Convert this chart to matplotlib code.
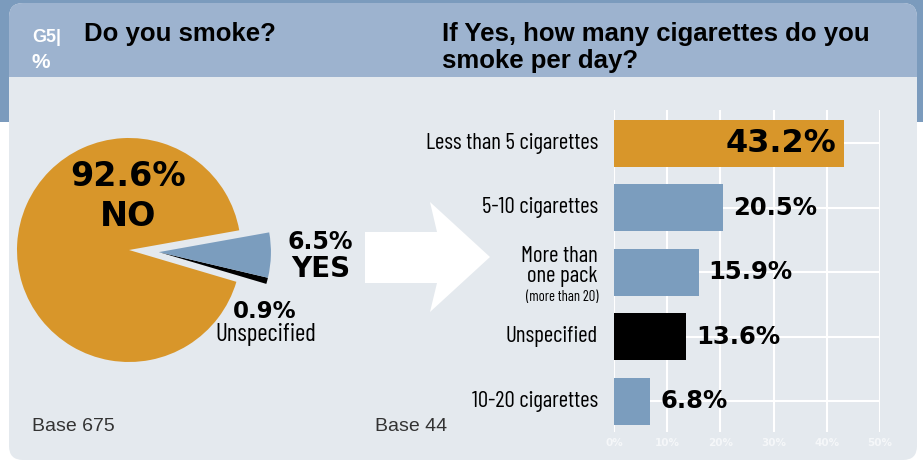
import matplotlib
matplotlib.use("Agg")
import matplotlib.pyplot as plt
from matplotlib.patches import FancyBboxPatch, Rectangle, Polygon
import numpy as np

# pie: Do you smoke?
pie_labels = ["Unspecified", "YES", "NO"]
pie_values = [0.9, 6.5, 92.6]

# bars: cigarettes per day (Base 44)
bar_cats = ["Less than 5 cigarettes", "5-10 cigarettes", "More than\none pack",
            "Unspecified", "10-20 cigarettes"]
bar_values = [43.2, 20.5, 15.9, 13.6, 6.8]
x_ticks = [0, 10, 20, 30, 40, 50]

ORANGE = "#d8962a"
BLUE = "#7b9dbe"
BLACK = "#000000"
HEADER = "#9db3cf"
BODY = "#e4e9ee"
FRAME = "#7b9bbd"
bar_colors = [ORANGE, BLUE, BLUE, BLACK, BLUE]

narrow = ["Barlow Condensed", "DejaVu Sans"]
heavy = ["DejaVu Sans"]
helv = ["Liberation Sans", "DejaVu Sans"]

W, H = 923, 461
fig = plt.figure(figsize=(W / 100, H / 100), dpi=100)
fig.patch.set_facecolor("white")

# background / decoration axes in pixel coords
bg = fig.add_axes([0, 0, 1, 1], zorder=-1)
bg.set_xlim(0, W)
bg.set_ylim(H, 0)
bg.axis("off")

bg.add_patch(Rectangle((0, 0), W, 122, color=FRAME, lw=0))
bg.add_patch(FancyBboxPatch((9, 3), 908, 457, boxstyle="round,pad=0,rounding_size=14",
                            fc=BODY, ec="none"))
bg.add_patch(FancyBboxPatch((9, 3), 908, 95, boxstyle="round,pad=0,rounding_size=14",
                            fc=HEADER, ec="none"))
bg.add_patch(Rectangle((9, 77), 908, 30, color=BODY, lw=0))

# arrow
bg.add_patch(Polygon([(365, 232), (437, 232), (430, 202), (490, 257), (430, 312),
                      (437, 283), (365, 283)], closed=True, fc="white", ec="none"))

# header text
bg.text(32, 42, "G5|", color="white", fontsize=13, fontweight="bold", family=helv)
bg.text(32, 68, "%", color="white", fontsize=15, fontweight="bold", family=helv)
bg.text(84, 41, "Do you smoke?", fontsize=18.5, fontweight="bold", family=helv)
bg.text(442, 41, "If Yes, how many cigarettes do you", fontsize=18.5, fontweight="bold", family=helv)
bg.text(442, 68, "smoke per day?", fontsize=18.5, fontweight="bold", family=helv)

bg.text(32, 431, "Base 675", fontsize=14, color="#333333", family=helv)
bg.text(375, 431, "Base 44", fontsize=14, color="#333333", family=helv)

# pie axes, 1 data unit = 1 pixel, centre of pie at (129, 250) px
pax = fig.add_axes([(129 - 150) / W, (H - 250 - 150) / H, 300 / W, 300 / H])
wedges, _ = pax.pie(pie_values, colors=[BLACK, BLUE, ORANGE], startangle=-16.5,
                    radius=112, counterclock=True, wedgeprops=dict(lw=0))
ang = np.deg2rad(-4)
off = (30 * np.cos(ang), 30 * np.sin(ang))
for w in wedges[:2]:
    w.set_center(off)
pax.set_xlim(-150, 150)
pax.set_ylim(-150, 150)
pax.set_aspect("auto")
pax.axis("off")


def ptxt(px, py, s, **kw):
    pax.text(px - 129, 250 - py, s, ha="center", va="center", clip_on=False, **kw)


ptxt(128, 177, f"{pie_values[2]}%", fontsize=24, fontweight="bold", family=heavy)
ptxt(128, 216, pie_labels[2], fontsize=24, fontweight="bold", family=heavy)
ptxt(320, 242, f"{pie_values[1]}%", fontsize=17, fontweight="bold", family=heavy)
ptxt(321, 269, pie_labels[1], fontsize=20, fontweight="bold", family=heavy)
ptxt(265, 312, f"{pie_values[0]}%", fontsize=16.5, fontweight="bold", family=heavy)
ptxt(266, 335, pie_labels[0], fontsize=18, family=narrow)

# bar axes
ax = fig.add_axes([614 / W, (H - 432) / H, 266 / W, 322 / H])
ax.set_facecolor("none")
y = np.arange(len(bar_values))
ax.barh(y, bar_values, height=0.73, color=bar_colors, zorder=3)
ax.set_xlim(0, 50)
ax.set_ylim(len(bar_values) - 0.52, -0.52)
ax.set_xticks(x_ticks)
ax.set_xticklabels([f"{t}%" for t in x_ticks], color="#f5f7f9", fontsize=7.5,
                   fontweight="bold")
ax.set_yticks(y)
ax.set_yticklabels([])
ax.tick_params(length=0, pad=4)
ax.grid(True, color="white", lw=1.5, zorder=0)
ax.set_axisbelow(True)
for s in ax.spines.values():
    s.set_visible(False)

for i, (v, lab) in enumerate(zip(bar_values, bar_cats)):
    if i == 0:
        ax.annotate(f"{v}%", (v, i), xytext=(-8, 0), textcoords="offset pixels",
                    ha="right", va="center", fontsize=23, fontweight="bold",
                    family=heavy, zorder=4)
    else:
        ax.annotate(f"{v}%", (v, i), xytext=(10, 0), textcoords="offset pixels",
                    ha="left", va="center", fontsize=17.5, fontweight="bold",
                    family=heavy, zorder=4)
    if "\n" in lab:
        ax.annotate(lab, (0, i), xytext=(-16, 6), textcoords="offset pixels",
                    ha="right", va="center", fontsize=16.5, family=narrow,
                    linespacing=0.95, annotation_clip=False)
        ax.annotate("(more than 20)", (0, i), xytext=(-16, -25), textcoords="offset pixels",
                    ha="right", va="center", fontsize=10.5, family=narrow,
                    annotation_clip=False)
    else:
        ax.annotate(lab, (0, i), xytext=(-16, 0), textcoords="offset pixels",
                    ha="right", va="center", fontsize=16.5, family=narrow,
                    annotation_clip=False)

fig.savefig("out.png", dpi=100)
